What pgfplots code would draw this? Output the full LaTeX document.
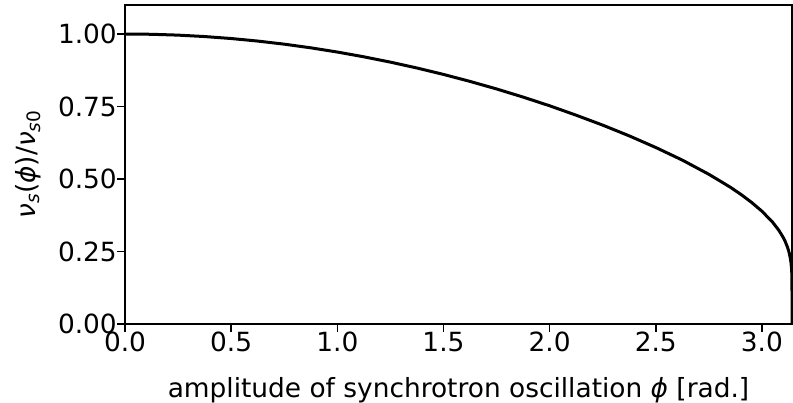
\documentclass[border=0pt]{standalone}
\usepackage{fontspec}
\setmainfont{DejaVu Sans}
\usepackage{pgfplots}
\pgfplotsset{compat=1.18}
\begin{document}
\begin{tikzpicture}
\begin{axis}[
  scale only axis,
  width=667bp, height=319bp,
  xmin=0, xmax=3.14159265, ymin=0, ymax=1.1,
  xtick={0,0.5,1,1.5,2,2.5,3},
  ytick={0,0.25,0.5,0.75,1},
  xticklabel style={/pgf/number format/.cd, fixed, fixed zerofill, precision=1, assume math mode=true},
  yticklabel style={/pgf/number format/.cd, fixed, fixed zerofill, precision=2, assume math mode=true},
  tick pos=left,
  tick align=outside,
  major tick length=8bp,
  every tick/.style={black, line width=1.5bp},
  axis line style={line width=1.5bp},
  tick label style={font=\fontsize{26.5}{32}\selectfont, inner sep=0pt},
  every axis x label/.style={at={(axis description cs:0.5,0)}, anchor=north, inner sep=0pt, yshift=-53bp, font=\fontsize{26.5}{32}\selectfont},
  every axis y label/.style={at={([xshift=-84bp]axis description cs:0,0.5)}, rotate=90, anchor=south, inner sep=0pt, font=\fontsize{26.5}{32}\selectfont},
  xlabel={amplitude of synchrotron oscillation \textit{ϕ} [rad.]},
  ylabel={\textit{ν}\textsubscript{\textit{s}}(\textit{ϕ})/\textit{ν}\textsubscript{\textit{s}0}},
]
\addplot[black, line width=3bp, line join=round] coordinates {
(0,1.0) (0.125,0.999024) (0.25,0.996095) (0.375,0.991217) (0.5,0.984395)
(0.625,0.97563) (0.75,0.96494) (0.875,0.952322) (1.0,0.937792) (1.125,0.92135)
(1.25,0.903006) (1.375,0.882756) (1.5,0.86061) (1.625,0.836518) (1.75,0.81053)
(1.875,0.782483) (2.0,0.7525) (2.125,0.719951) (2.25,0.6858) (2.375,0.6487)
(2.5,0.60865) (2.625,0.565162) (2.75,0.516218) (2.85,0.472185) (2.9,0.447326)
(2.95,0.420048) (3.0,0.38892) (3.05,0.351252) (3.08,0.322696) (3.1,0.29864)
(3.11,0.28381) (3.12,0.26556) (3.125,0.25424) (3.13,0.2403) (3.135,0.2212)
(3.1375,0.20728) (3.14,0.18432) (3.1405,0.17652) (3.1413,0.15376) (3.1415,0.1382)
(3.14159,0.105) (3.14159265,0)
};
\end{axis}
\pgfresetboundingbox
\path ([xshift=-125bp,yshift=-79bp]current axis.south west) rectangle ([xshift=1bp,yshift=5bp]current axis.north east);
\end{tikzpicture}
\end{document}
